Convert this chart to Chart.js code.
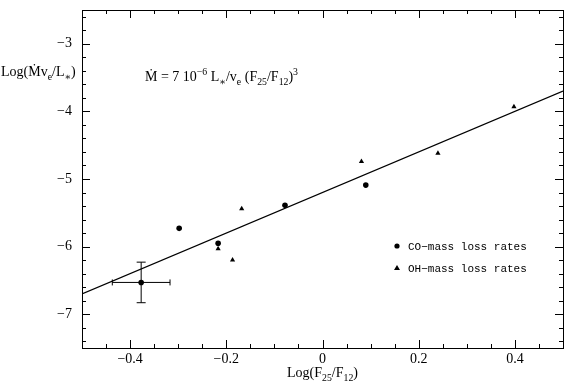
<!DOCTYPE html>
<html>
<head>
<meta charset="utf-8">
<script src="https://cdn.jsdelivr.net/npm/chart.js@4.4.1/dist/chart.umd.min.js"></script>
<style>
  html, body { margin: 0; padding: 0; background: #fff; }
  #wrap { width: 570px; height: 383px; }
</style>
</head>
<body>
<div id="wrap"><canvas id="chart"></canvas></div>
<script>
// data
const coX = [-0.298, -0.217, -0.078, 0.090];
const coY = [-5.73, -5.95, -5.39, -5.09];
const ohX = [-0.217, -0.187, -0.168, 0.081, 0.240, 0.398];
const ohY = [-6.03, -6.20, -5.44, -4.74, -4.62, -3.93];
// mean point with error bars
const meanX = [-0.377];
const meanY = [-6.53];
const meanErrX = [0.06];
const meanErrY = [0.30];
// fitted relation
const fitX = [-0.5, 0.5];
const fitY = [-6.70, -3.70];

const xRange = [-0.5, 0.5];
const yRange = [-7.5, -2.5];
const yMajor = [-7, -6, -5, -4, -3];

const serif = "'Liberation Serif', 'DejaVu Serif', serif";
const mono = "'Liberation Mono', 'DejaVu Sans Mono', monospace";

function pts(xs, ys) { return xs.map((v, i) => ({ x: v, y: ys[i] })); }

// draw text with sub/superscripts: parts = [[text, 'n'|'sub'|'sup'], ...]
function rich(ctx, x, y, parts, size, align) {
    const w = parts.reduce((s, p) => {
        ctx.font = (p[1] === 'n' ? size : size * 0.7) + 'px ' + serif;
        return s + ctx.measureText(p[0]).width;
    }, 0);
    let cx = align === 'center' ? x - w / 2 : x;
    parts.forEach(p => {
        const small = p[1] !== 'n';
        ctx.font = (small ? size * 0.7 : size) + 'px ' + serif;
        const dy = p[1] === 'sub' ? size * 0.3 : p[1] === 'sup' ? -size * 0.45 : 0;
        ctx.fillText(p[0], cx, y + dy);
        cx += ctx.measureText(p[0]).width;
    });
}

const framePlugin = {
    id: 'frame',
    beforeDraw(chart) {
        const ctx = chart.ctx;
        ctx.save();
        ctx.fillStyle = '#fff';
        ctx.fillRect(0, 0, chart.width, chart.height);
        ctx.restore();
    },
    afterDatasetsDraw(chart) {
        const { ctx, chartArea: a, scales: { x, y } } = chart;
        ctx.save();
        ctx.strokeStyle = '#000';
        ctx.fillStyle = '#000';
        ctx.lineWidth = 1;
        ctx.strokeRect(a.left + 0.5, a.top + 0.5, a.right - a.left, a.bottom - a.top);

        // inward ticks on all four sides
        ctx.beginPath();
        x.ticks.forEach(t => {
            const px = Math.round(x.getPixelForValue(t.value)) + 0.5;
            const len = t.label ? 8 : 4;
            ctx.moveTo(px, a.bottom); ctx.lineTo(px, a.bottom - len);
            ctx.moveTo(px, a.top); ctx.lineTo(px, a.top + len);
        });
        y.ticks.forEach(t => {
            const py = Math.round(y.getPixelForValue(t.value)) + 0.5;
            const len = t.label ? 8 : 4;
            ctx.moveTo(a.left, py); ctx.lineTo(a.left + len, py);
            ctx.moveTo(a.right, py); ctx.lineTo(a.right - len, py);
        });
        ctx.stroke();

        // error bars
        ctx.beginPath();
        meanX.forEach((mx, i) => {
            const cx = x.getPixelForValue(mx), cy = y.getPixelForValue(meanY[i]);
            const x0 = x.getPixelForValue(mx - meanErrX[i]), x1 = x.getPixelForValue(mx + meanErrX[i]);
            const y0 = y.getPixelForValue(meanY[i] - meanErrY[i]), y1 = y.getPixelForValue(meanY[i] + meanErrY[i]);
            ctx.moveTo(x0, cy); ctx.lineTo(x1, cy);
            ctx.moveTo(x0, cy - 3); ctx.lineTo(x0, cy + 3);
            ctx.moveTo(x1, cy - 3); ctx.lineTo(x1, cy + 3);
            ctx.moveTo(cx, y0); ctx.lineTo(cx, y1);
            ctx.moveTo(cx - 4.5, y0); ctx.lineTo(cx + 4.5, y0);
            ctx.moveTo(cx - 4.5, y1); ctx.lineTo(cx + 4.5, y1);
        });
        ctx.stroke();

        // titles and formula
        ctx.textBaseline = 'alphabetic';
        rich(ctx, (a.left + a.right) / 2, 377,
            [['Log(F', 'n'], ['25', 'sub'], ['/F', 'n'], ['12', 'sub'], [')', 'n']], 14, 'center');
        rich(ctx, 1, 76,
            [['Log(\u1E40v', 'n'], ['e', 'sub'], ['/L', 'n'], ['\u2217', 'sub'], [')', 'n']], 14, 'left');
        rich(ctx, 145, 81,
            [['\u1E40 = 7 10', 'n'], ['\u22126', 'sup'], [' L', 'n'], ['\u2217', 'sub'], ['/v', 'n'],
             ['e', 'sub'], [' (F', 'n'], ['25', 'sub'], ['/F', 'n'], ['12', 'sub'], [')', 'n'], ['3', 'sup']], 14, 'left');

        // legend
        ctx.beginPath();
        ctx.arc(397, 246, 2.6, 0, Math.PI * 2);
        ctx.fill();
        ctx.beginPath();
        ctx.moveTo(397, 265); ctx.lineTo(400, 270); ctx.lineTo(394, 270); ctx.closePath();
        ctx.fill();
        ctx.font = '11px ' + mono;
        ctx.textBaseline = 'middle';
        ctx.fillText('CO\u2212mass loss rates', 408, 247);
        ctx.fillText('OH\u2212mass loss rates', 408, 269);
        ctx.restore();
    }
};

new Chart(document.getElementById('chart'), {
    type: 'scatter',
    data: {
        datasets: [
            {
                type: 'line',
                data: pts(fitX, fitY),
                borderColor: '#000',
                borderWidth: 1.2,
                pointRadius: 0,
                fill: false
            },
            {
                data: pts(coX, coY),
                pointStyle: 'circle',
                pointRadius: 2.8,
                backgroundColor: '#000',
                borderColor: '#000',
                borderWidth: 0
            },
            {
                data: pts(meanX, meanY),
                pointStyle: 'circle',
                pointRadius: 2.8,
                backgroundColor: '#000',
                borderColor: '#000',
                borderWidth: 0
            },
            {
                data: pts(ohX, ohY),
                pointStyle: 'triangle',
                pointRadius: 3,
                backgroundColor: '#000',
                borderColor: '#000',
                borderWidth: 0
            }
        ]
    },
    options: {
        responsive: true,
        maintainAspectRatio: false,
        animation: false,
        layout: { padding: { top: 10, right: 7, left: 0, bottom: 0 } },
        plugins: {
            legend: { display: false },
            tooltip: { enabled: false }
        },
        scales: {
            x: {
                type: 'linear',
                min: xRange[0],
                max: xRange[1],
                grid: { display: false, drawTicks: false, tickLength: 0 },
                border: { display: false },
                afterFit: function (s) { s.height = 35; s.paddingLeft = 0; s.paddingRight = 0; },
                ticks: {
                    stepSize: 0.05,
                    autoSkip: false,
                    maxRotation: 0,
                    padding: 3,
                    color: '#000',
                    font: { family: serif, size: 14 },
                    callback: function (v) {
                        const n = Math.round(v * 20);
                        if (n % 4 !== 0) return '';
                        if (n === 0) return '0';
                        return (n < 0 ? '\u2212' : '') + Math.abs(n / 20).toFixed(1);
                    }
                }
            },
            y: {
                type: 'linear',
                min: yRange[0],
                max: yRange[1],
                grid: { display: false, drawTicks: false, tickLength: 0 },
                border: { display: false },
                afterFit: function (s) { s.width = 82; s.paddingTop = 0; s.paddingBottom = 0; },
                // minor ticks every 0.2 between the integer labels
                afterBuildTicks: function (s) {
                    const t = [];
                    for (let k = -37; k <= -13; k++) t.push({ value: k / 5 });
                    s.ticks = t;
                },
                ticks: {
                    autoSkip: false,
                    padding: 10,
                    color: '#000',
                    font: { family: serif, size: 14 },
                    callback: function (v) {
                        const r = Math.round(v);
                        if (Math.abs(v - r) > 1e-6 || yMajor.indexOf(r) < 0) return '';
                        return '\u2212' + Math.abs(r);
                    }
                }
            }
        }
    },
    plugins: [framePlugin]
});
</script>
</body>
</html>
